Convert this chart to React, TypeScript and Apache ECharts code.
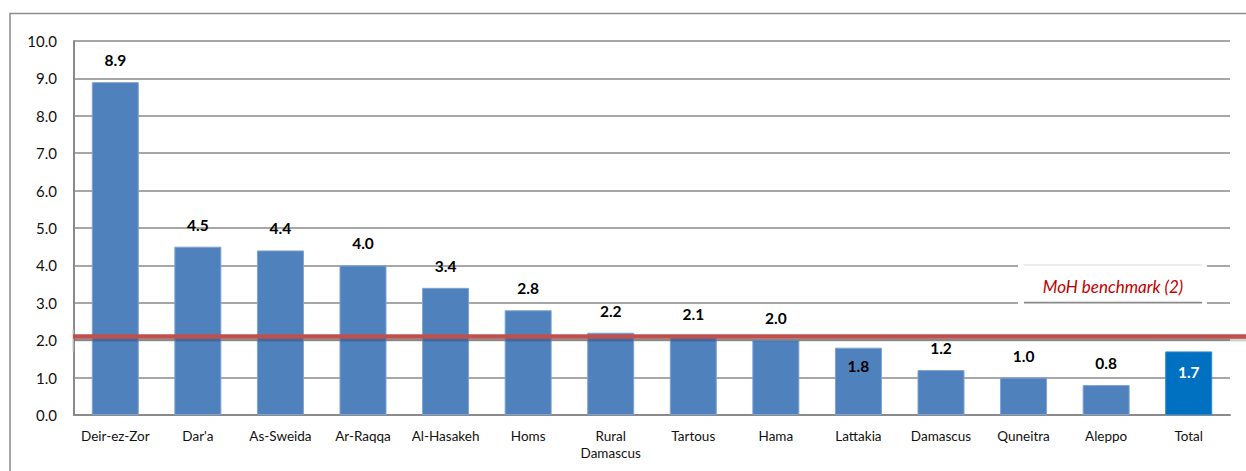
import React, { useEffect, useRef } from "react";
import * as echarts from "echarts";

// Ratio per governorate, with the national total in the last column
const governorates = [
  "Deir-ez-Zor",
  "Dar'a",
  "As-Sweida",
  "Ar-Raqqa",
  "Al-Hasakeh",
  "Homs",
  "Rural\nDamascus",
  "Tartous",
  "Hama",
  "Lattakia",
  "Damascus",
  "Quneitra",
  "Aleppo",
  "Total",
];
const ratios = [8.9, 4.5, 4.4, 4.0, 3.4, 2.8, 2.2, 2.1, 2.0, 1.8, 1.2, 1.0, 0.8, 1.7];
// Columns whose value label sits inside the bar
const insideLabelNames = ["Lattakia", "Total"];
const totalName = "Total";

const benchmarkValue = 2.1;
const benchmarkLabel = "MoH benchmark (2)";

const yMin = 0;
const yMax = 10;
const yStep = 1;

const FONT = "Lato, 'Noto Sans', sans-serif";
const GRID_COLOR = "#8a8a8a";

const GRID = { left: 74, right: 16, top: 41, bottom: 56 };
const WIDTH = 1246;
const HEIGHT = 471;

export default function App() {
  const ref = useRef<HTMLDivElement>(null);

  useEffect(() => {
    if (!ref.current) return;
    const chart = echarts.init(ref.current, undefined, { renderer: "svg" });

    const data = ratios.map((v, i) => {
      const name = governorates[i];
      const isTotal = name === totalName;
      const inside = insideLabelNames.includes(name);
      const item: any = { value: v };
      if (isTotal) item.itemStyle = { color: "#0070C0", borderColor: "#2a8ad0" };
      if (inside) {
        item.label = {
          position: "insideTop",
          distance: isTotal ? 13 : 10,
          color: isTotal ? "#ffffff" : "#000000",
        };
      }
      return item;
    });

    chart.setOption({
      animation: false,
      backgroundColor: "#ffffff",
      textStyle: { fontFamily: FONT },
      grid: { ...GRID, containLabel: false },
      xAxis: {
        type: "category",
        data: governorates,
        axisTick: { show: false },
        axisLine: { lineStyle: { color: GRID_COLOR, width: 2 } },
        axisLabel: {
          interval: 0,
          fontSize: 13.5,
          lineHeight: 17,
          margin: 12.5,
          color: "#111111",
          fontFamily: FONT,
        },
      },
      yAxis: {
        type: "value",
        min: yMin,
        max: yMax,
        interval: yStep,
        axisLine: { show: true, lineStyle: { color: GRID_COLOR, width: 2 } },
        axisTick: { show: false },
        axisLabel: {
          fontSize: 15,
          margin: 17,
          color: "#111111",
          fontFamily: FONT,
          formatter: (v: number) => v.toFixed(1),
        },
        splitLine: { lineStyle: { color: GRID_COLOR, width: 1.6 } },
      },
      series: [
        {
          type: "bar",
          data,
          barWidth: 47,
          itemStyle: {
            color: "#4F81BD",
            borderColor: "#7fa3d3",
            borderWidth: 1,
          },
          label: {
            show: true,
            position: "top",
            distance: 14,
            fontSize: 15.5,
            fontWeight: "bold",
            color: "#000000",
            fontFamily: FONT,
            formatter: (p: any) => Number(p.value).toFixed(1),
          },
        },
      ],
    });

    // pixel row of the benchmark value on the value axis
    let yLine = NaN;
    try {
      const pt = chart.convertToPixel({ gridIndex: 0 }, [0, benchmarkValue]) as number[];
      if (pt && isFinite(pt[1])) yLine = pt[1];
    } catch (e) {
      yLine = NaN;
    }
    if (!isFinite(yLine)) {
      const plotH = HEIGHT - GRID.top - GRID.bottom;
      yLine = GRID.top + ((yMax - benchmarkValue) / (yMax - yMin)) * plotH;
    }

    chart.setOption({
      graphic: [
        // outer frame
        {
          type: "polyline",
          shape: { points: [[10, HEIGHT], [10, 13.5], [WIDTH, 13.5]] },
          style: { stroke: "#8c8c8c", lineWidth: 1.5, fill: null },
          silent: true,
        },
        // benchmark text box
        {
          type: "rect",
          shape: { x: 1018, y: 261, width: 189, height: 45 },
          style: { fill: "#ffffff" },
          z: 10,
          silent: true,
        },
        {
          type: "line",
          shape: { x1: 1024, y1: 265, x2: 1202, y2: 265 },
          style: { stroke: "#dcdcdc", lineWidth: 1.2 },
          z: 11,
          silent: true,
        },
        {
          type: "line",
          shape: { x1: 1024, y1: 302.6, x2: 1202, y2: 302.6 },
          style: { stroke: GRID_COLOR, lineWidth: 1.6 },
          z: 11,
          silent: true,
        },
        {
          type: "text",
          x: 1113,
          y: 286,
          z: 12,
          style: {
            text: benchmarkLabel,
            fontSize: 17,
            fontStyle: "italic",
            fontFamily: FONT,
            fill: "#C00000",
            align: "center",
            verticalAlign: "middle",
          },
          silent: true,
        },
        // benchmark line: soft shadow, then the red stroke
        {
          type: "line",
          shape: { x1: GRID.left, y1: yLine + 3, x2: WIDTH, y2: yLine + 3 },
          style: { stroke: "rgba(0,0,0,0.18)", lineWidth: 4 },
          z: 19,
          silent: true,
        },
        {
          type: "line",
          shape: { x1: GRID.left - 1, y1: yLine - 7, x2: GRID.left - 1, y2: yLine + 15 },
          style: { stroke: "#cfcfcf", lineWidth: 1.2 },
          z: 19,
          silent: true,
        },
        {
          type: "line",
          shape: { x1: GRID.left - 1, y1: yLine, x2: WIDTH, y2: yLine },
          style: { stroke: "#C0504D", lineWidth: 4.5 },
          z: 20,
          silent: true,
        },
      ],
    });

    return () => chart.dispose();
  }, []);

  return (
    <div
      ref={ref}
      style={{
        position: "fixed",
        left: 0,
        top: 0,
        width: WIDTH,
        height: HEIGHT,
        background: "#ffffff",
      }}
    />
  );
}
